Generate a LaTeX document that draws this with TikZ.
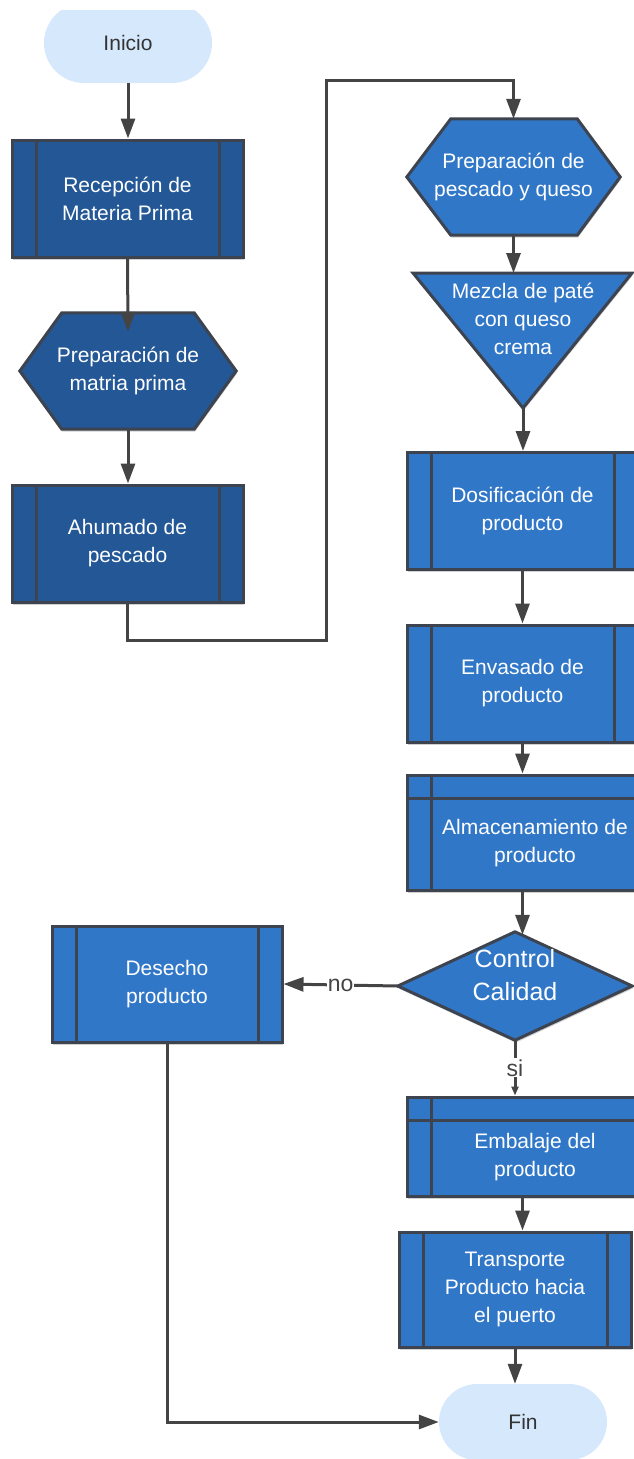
\documentclass[tikz,border=0pt]{standalone}
\usepackage{fontspec}
\setmainfont{Liberation Sans}
\usetikzlibrary{shapes.misc, shadows, arrows.meta, backgrounds}

\definecolor{darkfill}{HTML}{235796}
\definecolor{midfill}{HTML}{3177C8}
\definecolor{edgec}{HTML}{3D4450}
\definecolor{wirec}{HTML}{444444}
\definecolor{termfill}{HTML}{D6E8FC}
\definecolor{termtext}{HTML}{333333}

\newcommand{\boxfont}{\fontsize{21}{28}\selectfont}
\newcommand{\bigfont}{\fontsize{25}{33}\selectfont}
\newcommand{\tagfont}{\fontsize{23}{28}\selectfont}

\tikzset{
  softshadow/.style={drop shadow={shadow xshift=0.8pt, shadow yshift=-2.5pt, opacity=0.18, fill=black}},
  term/.style={rounded rectangle, fill=termfill, draw=none, minimum width=168pt,
    minimum height=78pt, inner sep=0pt, font=\boxfont, text=termtext},
  boxbase/.style={rectangle, draw=edgec, line width=3pt, minimum width=231pt,
    minimum height=117pt, inner sep=0pt, align=center, text=white, font=\boxfont, softshadow},
  % predefined process: two inner vertical bars
  procbox/.style={boxbase, fill=#1, path picture={
      \draw[edgec, line width=3pt]
        ([xshift=24pt]path picture bounding box.north west) -- ([xshift=24pt]path picture bounding box.south west)
        ([xshift=-24pt]path picture bounding box.north east) -- ([xshift=-24pt]path picture bounding box.south east);}},
  % internal storage: one vertical and one horizontal bar
  storebox/.style={boxbase, fill=#1, path picture={
      \draw[edgec, line width=3pt]
        ([xshift=24pt]path picture bounding box.north west) -- ([xshift=24pt]path picture bounding box.south west)
        ([yshift=-23pt]path picture bounding box.north west) -- ([yshift=-23pt]path picture bounding box.north east);}},
  frame/.style={rectangle, draw=none, inner sep=0pt, align=center, text=white, font=\boxfont},
  outline/.style={draw=edgec, line width=3pt, softshadow},
  conn/.style={draw=wirec, line width=3pt, -{Triangle[length=20pt, width=14pt]}},
  smalltip/.style={-{Triangle[length=9pt, width=7pt]}},
  tag/.style={fill=white, inner sep=1pt, font=\tagfont, text=wirec}
}

\begin{document}
\begin{tikzpicture}[x=1pt, y=-1pt]
\useasboundingbox (0,0) rectangle (633,1459);

% start terminal, trimmed flat along its top
\begin{scope}
  \clip (0,10) rectangle (633,1459);
  \node[term, minimum height=80pt] (ini) at (128,43) {Inicio};
\end{scope}

% left column
\node[procbox=darkfill] (rec) at (127.5,198.5) {Recepción de\\Materia Prima};
\node[frame, minimum width=216pt, minimum height=116pt] (hex1) at (128,371) {Preparación de\\matria prima};
\node[procbox=darkfill] (ahu) at (127.5,543.5) {Ahumado de\\pescado};

% right column
\node[frame, minimum width=213pt, minimum height=116pt] (hex2) at (513.5,177) {Preparación de\\pescado y queso};
\coordinate (tritop) at (523,273);
\coordinate (tritip) at (523,408);
\node[frame] (tri) at (523,319) {Mezcla de paté\\con queso\\crema};
\node[procbox=midfill] (dos) at (522.5,511) {Dosificación de\\producto};
\node[procbox=midfill] (env) at (522.5,683.5) {Envasado de\\producto};
\node[storebox=midfill, minimum height=115pt] (alm) at (522.5,832.5) {};
\node[frame] (almtxt) at (535,843) {Almacenamiento de\\producto};
\node[frame, minimum width=234pt, minimum height=108pt] (dia) at (515,986) {};
\node[frame, font=\bigfont] (diatxt) at (515,975) {Control\\Calidad};
\node[procbox=midfill, minimum width=230pt, minimum height=116pt] (des) at (167,984) {Desecho\\producto};
\node[storebox=midfill, minimum height=99pt] (emb) at (522.5,1146.5) {};
\node[frame] (embtxt) at (535,1157) {Embalaje del\\producto};
\node[procbox=midfill, minimum width=232pt, minimum height=115pt] (tra) at (515,1289.5) {Transporte\\Producto hacia\\el puerto};
\node[term, minimum height=76pt] (fin) at (523,1422) {Fin};

% hexagon, triangle and diamond outlines behind their labels
\begin{scope}[on background layer]
  \filldraw[outline, fill=darkfill] (hex1.west) -- ([xshift=42pt]hex1.north west) -- ([xshift=-42pt]hex1.north east)
    -- (hex1.east) -- ([xshift=-42pt]hex1.south east) -- ([xshift=42pt]hex1.south west) -- cycle;
  \filldraw[outline, fill=midfill] (hex2.west) -- ([xshift=44pt]hex2.north west) -- ([xshift=-43pt]hex2.north east)
    -- (hex2.east) -- ([xshift=-43pt]hex2.south east) -- ([xshift=44pt]hex2.south west) -- cycle;
  \filldraw[outline, fill=midfill] (413,273) -- (632,273) -- (tritip) -- cycle;
  \filldraw[outline, fill=midfill] (dia.north) -- (dia.east) -- (dia.south) -- (dia.west) -- cycle;
\end{scope}

% route from the smoking step over to the second column
\coordinate (j1) at (326,640);
\coordinate (j2) at (326,80);

% connectors
\draw[conn] (ini.south) -- (ini.south |- rec.north);
\draw[conn] (rec.south) -- ([yshift=-19pt]hex1.north);
\draw[conn] (hex1.south) -- (hex1.south |- ahu.north);
\draw[conn] (ahu.south) |- (j1) -- (j2) -| (hex2.north);
\draw[conn] (hex2.south) -- (hex2.south |- tritop);
\draw[conn] (tritip) -- (tritip |- dos.north);
\draw[conn] (dos.south) -- (env.north);
\draw[conn] (env.south) -- (alm.north);
\draw[conn] (alm.south) -- ([yshift=-3pt]alm.south |- dia.north);
\draw[conn] (dia.west) -- node[tag] {no} (des.east);
\draw[conn, smalltip] (dia.south) -- node[tag] {si} (dia.south |- emb.north);
\draw[conn] (emb.south) -- (emb.south |- tra.north);
\draw[conn] (tra.south) -- (tra.south |- fin.north);
\draw[conn] (des.south) |- (fin.west);
\end{tikzpicture}
\end{document}
